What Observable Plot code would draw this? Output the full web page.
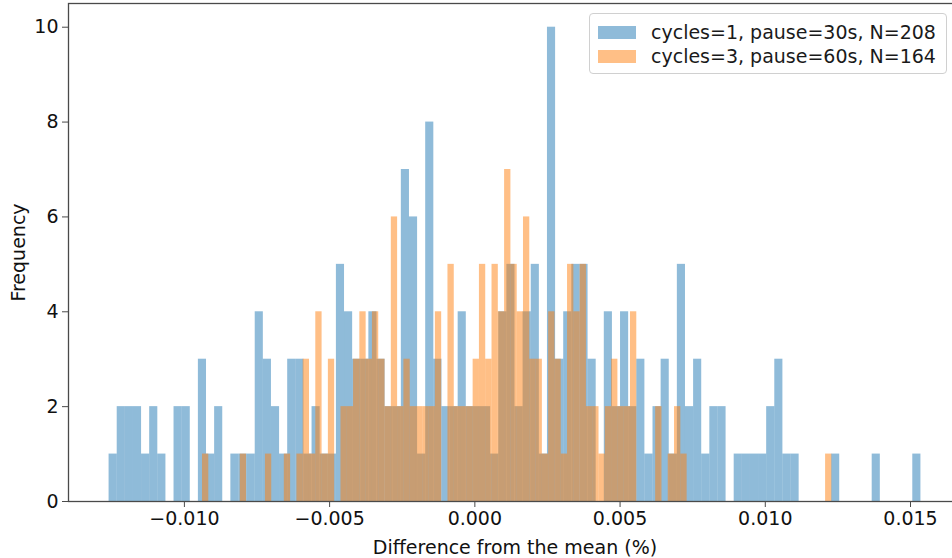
<!DOCTYPE html>
<html><head><meta charset="utf-8">
<script src="https://cdn.jsdelivr.net/npm/d3@7"></script>
<script src="https://cdn.jsdelivr.net/npm/@observablehq/plot@0.6"></script>
<style>
body{margin:0;background:#fff;font-family:"DejaVu Sans",sans-serif;}
#wrap{position:relative;width:952px;height:558px;overflow:hidden;}
#legend{position:absolute;left:589px;top:13px;width:358px;height:61px;box-sizing:border-box;border:1px solid #d0d0d0;border-radius:4px;background:rgba(255,255,255,0.8);font-size:19px;color:#1a1a1a;}
.row{position:absolute;left:8px;display:flex;align-items:center;white-space:nowrap;}
.sw{width:38px;height:13px;margin-right:15px;}
</style></head><body><div id="wrap"></div>
<script>
const blueLabel = "cycles=1, pause=30s, N=208";
const orangeLabel = "cycles=3, pause=60s, N=164";
const blueRange = [-0.012593, 0.015358];
const orangeRange = [-0.009377, 0.012293];
const blueCounts = [
 1,2,2,2,1,2,1,0,2,2,
 0,3,1,2,0,1,1,1,4,3,
 2,1,3,3,1,2,1,1,5,4,
 3,3,4,3,2,2,7,6,1,8,
 3,2,2,4,2,2,2,1,4,5,
 2,4,5,1,10,3,4,5,5,3,
 0,4,2,4,2,3,1,2,3,1,
 5,2,3,1,2,2,0,1,1,1,
 1,2,3,1,1,0,0,0,0,1,
 0,0,0,0,1,0,0,0,0,1];
const orangeCounts = [
 1,0,0,0,0,0,1,0,0,0,
 1,0,0,1,0,1,3,1,4,1,
 3,0,2,2,3,4,3,4,3,2,
 6,2,3,2,2,2,2,4,0,5,
 2,2,2,3,5,3,5,4,7,5,
 4,6,3,3,1,4,3,1,5,4,
 5,2,2,1,2,3,2,2,4,0,
 0,0,2,0,1,2,1,0,0,0,
 0,0,0,0,0,0,0,0,0,0,
 0,0,0,0,0,0,0,0,0,1];
const xTicks = [-0.010, -0.005, 0.000, 0.005, 0.010, 0.015];
const yTicks = [0, 2, 4, 6, 8, 10];
const xTitle = "Difference from the mean (%)";
const yTitle = "Frequency";

function toBins(range, counts) {
  const w = (range[1] - range[0]) / counts.length;
  return counts.map((c, i) => ({x1: range[0] + i * w, x2: range[0] + (i + 1) * w, c})).filter(d => d.c > 0);
}
const span = blueRange[1] - blueRange[0];
const xmin = blueRange[0] - 0.05 * span, xmax = blueRange[1] + 0.05 * span;

const chart = Plot.plot({
  width: 952, height: 558,
  marginLeft: 68, marginRight: -9, marginTop: 3, marginBottom: 57,
  style: {fontFamily: "DejaVu Sans, sans-serif", fontSize: "19px", color: "#111", background: "white"},
  x: {domain: [xmin, xmax]},
  y: {domain: [0, 10.5]},
  marks: [
    Plot.rectY(toBins(blueRange, blueCounts), {x1: "x1", x2: "x2", y: "c", fill: "#1f77b4", fillOpacity: 0.5, inset: 0}),
    Plot.rectY(toBins(orangeRange, orangeCounts), {x1: "x1", x2: "x2", y: "c", fill: "#ff7f0e", fillOpacity: 0.5, inset: 0}),
    Plot.frame({stroke: "#4a4a4a", strokeWidth: 1.3}),
    Plot.axisX({ticks: xTicks, tickFormat: d3.format(".3f"), tickSize: 6, tickPadding: 4, fontSize: 19, label: null, stroke: "#4a4a4a"}),
    Plot.axisY({ticks: yTicks, tickFormat: d => String(d), tickSize: 6, tickPadding: 4, fontSize: 19, label: null, stroke: "#4a4a4a"}),
    Plot.text([yTitle], {frameAnchor: "left", textAnchor: "middle", lineAnchor: "middle", dx: -50, rotate: -90, fontSize: 19, fill: "#111"}),
    Plot.text([xTitle], {frameAnchor: "bottom", lineAnchor: "middle", dy: 46, fontSize: 19, fill: "#111"})
  ]
});
const wrap = document.getElementById("wrap");
wrap.appendChild(chart);
const leg = document.createElement("div");
leg.id = "legend";
leg.innerHTML = `<div class="row" style="top:7px"><div class="sw" style="background:rgba(31,119,180,0.5)"></div><span>${blueLabel}</span></div>
<div class="row" style="top:31px"><div class="sw" style="background:rgba(255,127,14,0.5)"></div><span>${orangeLabel}</span></div>`;
wrap.appendChild(leg);
</script></body></html>
